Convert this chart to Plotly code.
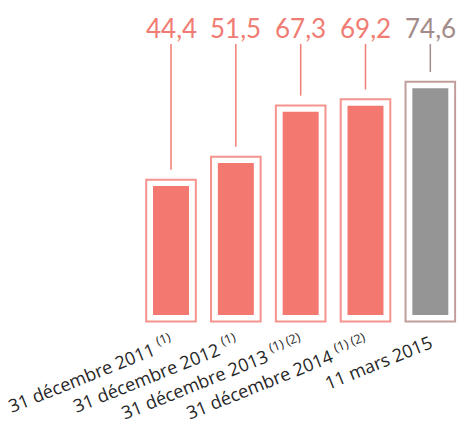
import plotly.graph_objects as go

categories = ["31 décembre 2011", "31 décembre 2012", "31 décembre 2013", "31 décembre 2014", "11 mars 2015"]
notes = ["(1)", "(1)", "(1) (2)", "(1) (2)", ""]
values = [44.4, 51.5, 67.3, 69.2, 74.6]
value_labels = ["44,4", "51,5", "67,3", "69,2", "74,6"]

bar_colors = ["#F27870", "#F27870", "#F27870", "#F27870", "#959595"]
frame_colors = ["#F5938D", "#F5938D", "#F5938D", "#F5938D", "#C09E9C"]
text_colors = ["#F07C74", "#F07C74", "#F07C74", "#F07C74", "#A38B89"]

BASE = 4.6      # axis value where bars start
PAD = 1.95      # frame padding in data units
LINE_TOP = 88.2
LINE_GAP = 5.0
LABEL_Y = 93.3

x = list(range(len(categories)))
ticktext = [c + (" <sup>" + n + "</sup>" if n else "") for c, n in zip(categories, notes)]

fig = go.Figure()
# frames
fig.add_trace(go.Bar(
    x=x, y=[v - BASE + 2 * PAD for v in values], base=BASE - PAD,
    width=0.765,
    marker=dict(color="white", line=dict(color=frame_colors, width=2)),
    hoverinfo="skip",
))
# inner bars
fig.add_trace(go.Bar(
    x=x, y=[v - BASE for v in values], base=BASE,
    width=0.555,
    marker=dict(color=bar_colors, line=dict(width=0)),
))

for i, v in enumerate(values):
    fig.add_shape(type="line", xref="x", yref="y", x0=i, x1=i,
                  y0=v + LINE_GAP, y1=LINE_TOP,
                  line=dict(color=text_colors[i], width=1.5))
    fig.add_annotation(x=i, y=LABEL_Y, xref="x", yref="y", text=value_labels[i],
                       showarrow=False, yanchor="middle", xanchor="center",
                       font=dict(family="Lato", size=26, color=text_colors[i]))

fig.update_layout(
    width=458, height=434,
    margin=dict(l=0, r=0, t=0, b=104),
    barmode="overlay",
    showlegend=False,
    plot_bgcolor="white", paper_bgcolor="white",
    xaxis=dict(range=[-2.638, 4.427], tickmode="array", tickvals=x, ticktext=ticktext,
               tickangle=-22, showgrid=False, zeroline=False, showline=False,
               ticks="", automargin=False, ticklabelstandoff=-1,
               ticklabeloverflow="allow",
               tickfont=dict(family="Open Sans", size=18, color="#262626")),
    yaxis=dict(range=[0, 101.8], visible=False, showgrid=False, zeroline=False),
)

fig.write_html("out.html", config={"displayModeBar": False},
               post_script="document.body.style.margin='0';document.body.style.overflow='hidden';")
